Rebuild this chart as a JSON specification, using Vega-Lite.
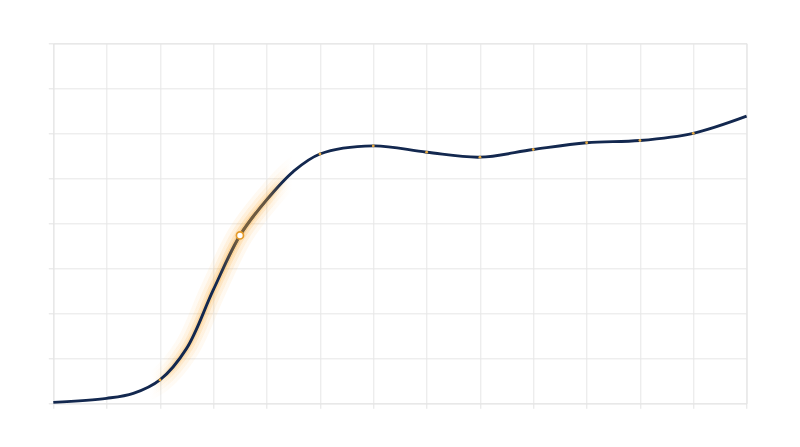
{
  "$schema": "https://vega.github.io/schema/vega-lite/v6.json",
  "autosize": "none",
  "width": 693.3,
  "height": 360,
  "padding": {"left": 53.3, "top": 43.3, "right": 53.3, "bottom": 43.7},
  "background": "white",
  "config": {
    "view": {"stroke": "#e3e3e3", "strokeWidth": 1},
    "axis": {
      "grid": true,
      "gridColor": "#e6e6e6",
      "gridWidth": 1,
      "labels": false,
      "title": null,
      "domain": false,
      "ticks": true,
      "tickColor": "#e3e3e3",
      "tickSize": 5
    }
  },
  "data": {
    "values": [
      {"x": 0, "y": 0.02},
      {"x": 1, "y": 0.11},
      {"x": 1.5, "y": 0.22},
      {"x": 2, "y": 0.52},
      {"x": 2.5, "y": 1.22},
      {"x": 3, "y": 2.52},
      {"x": 3.5, "y": 3.73},
      {"x": 4, "y": 4.52},
      {"x": 4.5, "y": 5.15},
      {"x": 5, "y": 5.54},
      {"x": 6, "y": 5.72},
      {"x": 7, "y": 5.58},
      {"x": 8, "y": 5.47},
      {"x": 9, "y": 5.64},
      {"x": 10, "y": 5.79},
      {"x": 11, "y": 5.84},
      {"x": 12, "y": 6.0},
      {"x": 13, "y": 6.38}
    ]
  },
  "encoding": {
    "x": {
      "field": "x",
      "type": "quantitative",
      "scale": {"domain": [0, 13], "nice": false, "zero": false},
      "axis": {"values": [0, 1, 2, 3, 4, 5, 6, 7, 8, 9, 10, 11, 12, 13]}
    },
    "y": {
      "field": "y",
      "type": "quantitative",
      "scale": {"domain": [0, 8], "nice": false},
      "axis": {"values": [0, 1, 2, 3, 4, 5, 6, 7, 8]}
    }
  },
  "layer": [
    {
      "transform": [{"filter": "datum.x >= 1 && datum.x <= 6"}],
      "mark": {
        "type": "line",
        "interpolate": "catmull-rom",
        "strokeWidth": 26,
        "opacity": 0.07,
        "color": {
          "gradient": "linear", "x1": 0, "x2": 1, "y1": 0, "y2": 0,
          "stops": [
            {"offset": 0, "color": "rgba(250,160,30,0)"},
            {"offset": 0.16, "color": "rgba(250,160,30,0)"},
            {"offset": 0.25, "color": "rgba(250,160,30,0.7)"},
            {"offset": 0.5, "color": "rgba(250,160,30,1)"},
            {"offset": 0.62, "color": "rgba(250,160,30,0.7)"},
            {"offset": 0.7, "color": "rgba(250,160,30,0)"},
            {"offset": 1, "color": "rgba(250,160,30,0)"}
          ]
        }
      }
    },
    {
      "transform": [{"filter": "datum.x >= 1 && datum.x <= 6"}],
      "mark": {
        "type": "line",
        "interpolate": "catmull-rom",
        "strokeWidth": 18,
        "opacity": 0.1,
        "color": {
          "gradient": "linear", "x1": 0, "x2": 1, "y1": 0, "y2": 0,
          "stops": [
            {"offset": 0, "color": "rgba(250,160,30,0)"},
            {"offset": 0.17, "color": "rgba(250,160,30,0)"},
            {"offset": 0.25, "color": "rgba(250,160,30,0.7)"},
            {"offset": 0.5, "color": "rgba(250,160,30,1)"},
            {"offset": 0.62, "color": "rgba(250,160,30,0.7)"},
            {"offset": 0.69, "color": "rgba(250,160,30,0)"},
            {"offset": 1, "color": "rgba(250,160,30,0)"}
          ]
        }
      }
    },
    {
      "transform": [{"filter": "datum.x >= 1 && datum.x <= 6"}],
      "mark": {
        "type": "line",
        "interpolate": "catmull-rom",
        "strokeWidth": 11,
        "opacity": 0.16,
        "color": {
          "gradient": "linear", "x1": 0, "x2": 1, "y1": 0, "y2": 0,
          "stops": [
            {"offset": 0, "color": "rgba(250,160,30,0)"},
            {"offset": 0.18, "color": "rgba(250,160,30,0)"},
            {"offset": 0.25, "color": "rgba(250,160,30,0.7)"},
            {"offset": 0.5, "color": "rgba(250,160,30,1)"},
            {"offset": 0.62, "color": "rgba(250,160,30,0.7)"},
            {"offset": 0.68, "color": "rgba(250,160,30,0)"},
            {"offset": 1, "color": "rgba(250,160,30,0)"}
          ]
        }
      }
    },
    {
      "transform": [{"filter": "datum.x >= 1 && datum.x <= 6"}],
      "mark": {
        "type": "line",
        "interpolate": "catmull-rom",
        "strokeWidth": 6,
        "opacity": 0.25,
        "color": {
          "gradient": "linear", "x1": 0, "x2": 1, "y1": 0, "y2": 0,
          "stops": [
            {"offset": 0, "color": "rgba(250,160,30,0)"},
            {"offset": 0.18, "color": "rgba(250,160,30,0)"},
            {"offset": 0.25, "color": "rgba(250,160,30,0.7)"},
            {"offset": 0.5, "color": "rgba(250,160,30,1)"},
            {"offset": 0.62, "color": "rgba(250,160,30,0.7)"},
            {"offset": 0.68, "color": "rgba(250,160,30,0)"},
            {"offset": 1, "color": "rgba(250,160,30,0)"}
          ]
        }
      }
    },
    {
      "mark": {
        "type": "line",
        "interpolate": "catmull-rom",
        "color": "#13284f",
        "strokeWidth": 2.9
      }
    },
    {
      "transform": [{"filter": "datum.x >= 1 && datum.x <= 6"}],
      "mark": {
        "type": "line",
        "interpolate": "catmull-rom",
        "strokeWidth": 2.9,
        "color": {
          "gradient": "linear", "x1": 0, "x2": 1, "y1": 0, "y2": 0,
          "stops": [
            {"offset": 0, "color": "rgba(196,138,48,0)"},
            {"offset": 0.42, "color": "rgba(196,138,48,0)"},
            {"offset": 0.5, "color": "rgba(196,138,48,0.6)"},
            {"offset": 0.6, "color": "rgba(196,138,48,0.45)"},
            {"offset": 0.66, "color": "rgba(196,138,48,0)"},
            {"offset": 1, "color": "rgba(196,138,48,0)"}
          ]
        }
      }
    },
    {
      "transform": [{"filter": "datum.x == 2 || (datum.x >= 5 && datum.x <= 12 && datum.x == floor(datum.x))"}],
      "mark": {
        "type": "point",
        "filled": true,
        "shape": "circle",
        "size": 8,
        "color": "#e0a540",
        "opacity": 1
      }
    },
    {
      "transform": [{"filter": "datum.x == 3.5"}],
      "mark": {
        "type": "point",
        "filled": true,
        "shape": "circle",
        "size": 50,
        "fill": "white",
        "stroke": "#e39a2a",
        "strokeWidth": 1.7,
        "opacity": 1
      }
    }
  ]
}
